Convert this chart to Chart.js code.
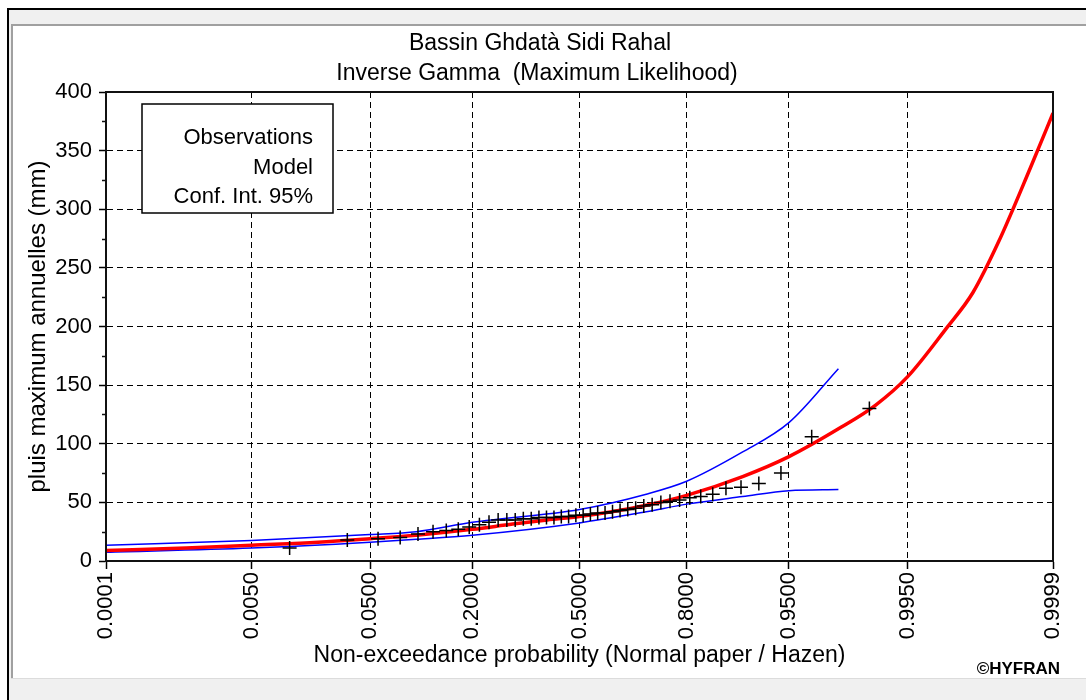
<!DOCTYPE html>
<html>
<head>
<meta charset="utf-8">
<script src="https://cdn.jsdelivr.net/npm/chart.js@4.4.1/dist/chart.umd.min.js"></script>
<style>
  html, body { margin: 0; padding: 0; background: #fff; }
  #wrap { width: 1086px; height: 700px; }
</style>
</head>
<body>
<div id="wrap"><canvas id="chart"></canvas></div>
<script>
// ================= DATA =================
const titleLines = ["Bassin Ghdatà Sidi Rahal", "Inverse Gamma  (Maximum Likelihood)"];
const legendLines = ["Observations", "Model", "Conf. Int. 95%"];
const xTitle = "Non-exceedance probability (Normal paper / Hazen)";
const yTitle = "pluis maximum annuelles (mm)";

const xTickProbs = [0.0001, 0.005, 0.05, 0.2, 0.5, 0.8, 0.95, 0.995, 0.9999];
const xTickLabels = ["0.0001", "0.0050", "0.0500", "0.2000", "0.5000", "0.8000", "0.9500", "0.9950", "0.9999"];

// observations (Hazen plotting positions)
const obsProb = [0.0114, 0.0341, 0.0568, 0.0795, 0.1023, 0.1250, 0.1477, 0.1705, 0.1932, 0.2159,
  0.2386, 0.2614, 0.2841, 0.3068, 0.3295, 0.3523, 0.3750, 0.3977, 0.4205, 0.4432,
  0.4659, 0.4886, 0.5114, 0.5341, 0.5568, 0.5795, 0.6023, 0.6250, 0.6477, 0.6705,
  0.6932, 0.7159, 0.7386, 0.7614, 0.7841, 0.8068, 0.8295, 0.8523, 0.8750, 0.8977,
  0.9205, 0.9432, 0.9659, 0.9886];
const obsValue = [11, 18, 19, 20, 23, 25, 26, 27, 29, 31,
  33, 35, 35, 35, 36, 36, 37, 37, 37, 38,
  38, 39, 39, 40, 41, 41, 42, 43, 44, 45,
  47, 48, 50, 51, 52, 54, 55, 57, 62, 63,
  66, 75, 106, 130];

// fitted model
const modelProb = [0.0001, 0.001, 0.005, 0.02, 0.05, 0.1, 0.2, 0.3, 0.4, 0.5, 0.6, 0.7,
  0.8, 0.9, 0.95, 0.98, 0.99, 0.995, 0.998, 0.999, 0.9995, 0.9998, 0.9999];
const modelValue = [9, 11, 13.5, 16, 19, 22, 27, 31.5, 35, 38, 42, 47.5,
  56, 72, 89, 114, 133, 157, 198, 229, 272, 335, 382];

// confidence interval 95%
const ciProb = [0.0001, 0.005, 0.05, 0.1, 0.2, 0.5, 0.7, 0.8, 0.9, 0.95, 0.979];
const ciUpper = [13.5, 17.5, 22.5, 25, 33, 44, 57, 68, 93, 118, 164];
const ciLower = [7.5, 11, 16, 18.5, 22, 32.5, 42, 48.5, 55, 60, 61];

const FONT = "'Liberation Sans', Arial, sans-serif";

// ================= NORMAL PAPER =================
// inverse standard normal (Acklam)
function probit(p) {
  const a = [-3.969683028665376e+01, 2.209460984245205e+02, -2.759285104469687e+02, 1.383577518672690e+02, -3.066479806614716e+01, 2.506628277459239e+00];
  const b = [-5.447609879822406e+01, 1.615858368580409e+02, -1.556989798598866e+02, 6.680131188771972e+01, -1.328068155288572e+01];
  const c = [-7.784894002430293e-03, -3.223964580411365e-01, -2.400758277161838e+00, -2.549732539343734e+00, 4.374664141464968e+00, 2.938163982698783e+00];
  const d = [7.784695709041462e-03, 3.224671290700398e-01, 2.445134137142996e+00, 3.754408661907416e+00];
  const pl = 0.02425;
  let q, r;
  if (p < pl) {
    q = Math.sqrt(-2 * Math.log(p));
    return (((((c[0]*q+c[1])*q+c[2])*q+c[3])*q+c[4])*q+c[5]) / ((((d[0]*q+d[1])*q+d[2])*q+d[3])*q+1);
  }
  if (p > 1 - pl) {
    q = Math.sqrt(-2 * Math.log(1 - p));
    return -(((((c[0]*q+c[1])*q+c[2])*q+c[3])*q+c[4])*q+c[5]) / ((((d[0]*q+d[1])*q+d[2])*q+d[3])*q+1);
  }
  q = p - 0.5; r = q * q;
  return (((((a[0]*r+a[1])*r+a[2])*r+a[3])*r+a[4])*r+a[5])*q / (((((b[0]*r+b[1])*r+b[2])*r+b[3])*r+b[4])*r+1);
}

const toPoints = (probs, vals) => probs.map((p, i) => ({ x: probit(p), y: vals[i] }));

// ================= DECORATION =================
const decor = {
  id: "decor",
  beforeDraw(chart) {
    const ctx = chart.ctx;
    ctx.save();
    ctx.fillStyle = "#fff";
    ctx.fillRect(0, 0, 1086, 700);
    // window frame
    ctx.fillStyle = "#f0f0f0";
    ctx.fillRect(9, 10, 1077, 14);
    ctx.fillRect(9, 10, 2, 690);
    ctx.fillRect(9, 679, 1077, 21);
    ctx.fillStyle = "#dcdcdc";
    ctx.fillRect(11, 678, 1075, 1);
    ctx.fillStyle = "#a0a0a0";
    ctx.fillRect(11, 24, 1075, 2);
    ctx.fillRect(11, 24, 2, 654);
    ctx.fillStyle = "#000";
    ctx.fillRect(7, 8, 1079, 2);
    ctx.fillRect(7, 8, 2, 692);
    ctx.restore();
  },
  afterDraw(chart) {
    const ctx = chart.ctx;
    const a = chart.chartArea;
    const ys = chart.scales.y;
    ctx.save();
    // plot frame
    ctx.strokeStyle = "#111";
    ctx.lineWidth = 2;
    ctx.strokeRect(a.left, a.top, a.right - a.left, a.bottom - a.top);
    // minor ticks
    ctx.lineWidth = 1.5;
    ctx.beginPath();
    for (let v = 25; v < 400; v += 50) {
      const y = Math.round(ys.getPixelForValue(v)) + 0.5;
      ctx.moveTo(a.left - 4, y);
      ctx.lineTo(a.left, y);
    }
    ctx.stroke();
    // titles
    ctx.fillStyle = "#000";
    ctx.font = "23px " + FONT;
    ctx.textAlign = "center";
    ctx.textBaseline = "alphabetic";
    ctx.fillText(titleLines[0], 540, 50);
    ctx.fillText(titleLines[1], 537, 80);
    // legend box
    ctx.fillStyle = "#fff";
    ctx.fillRect(142, 104, 191, 109);
    ctx.strokeStyle = "#000";
    ctx.lineWidth = 1.5;
    ctx.strokeRect(142, 104, 191, 109);
    ctx.fillStyle = "#000";
    ctx.font = "22px " + FONT;
    ctx.textAlign = "right";
    legendLines.forEach((t, i) => ctx.fillText(t, 313, 144 + i * 29.5));
    // copyright
    ctx.font = "bold 17px " + FONT;
    ctx.fillText("\u00A9HYFRAN", 1060, 674);
    ctx.restore();
  }
};

// ================= CHART =================
new Chart(document.getElementById("chart"), {
  data: {
    datasets: [
      {
        type: "scatter",
        label: legendLines[0],
        data: toPoints(obsProb, obsValue),
        pointStyle: "cross",
        pointRadius: 7,
        pointBorderWidth: 1.5,
        borderColor: "#000",
        backgroundColor: "#000",
        order: 0
      },
      {
        type: "line",
        label: legendLines[1],
        data: toPoints(modelProb, modelValue),
        borderColor: "#ff0000",
        borderWidth: 3.5,
        pointRadius: 0,
        cubicInterpolationMode: "monotone",
        order: 1
      },
      {
        type: "line",
        label: legendLines[2],
        data: toPoints(ciProb, ciUpper),
        borderColor: "#0000ff",
        borderWidth: 1.5,
        pointRadius: 0,
        cubicInterpolationMode: "monotone",
        order: 2
      },
      {
        type: "line",
        label: legendLines[2],
        data: toPoints(ciProb, ciLower),
        borderColor: "#0000ff",
        borderWidth: 1.5,
        pointRadius: 0,
        cubicInterpolationMode: "monotone",
        order: 2
      }
    ]
  },
  options: {
    responsive: true,
    maintainAspectRatio: false,
    animation: false,
    layout: { padding: { left: 13, top: 92, right: 33, bottom: 21 } },
    plugins: { legend: { display: false }, title: { display: false }, tooltip: { enabled: false } },
    scales: {
      x: {
        type: "linear",
        min: probit(xTickProbs[0]),
        max: probit(xTickProbs[xTickProbs.length - 1]),
        afterBuildTicks: s => { s.ticks = xTickProbs.map(p => ({ value: probit(p) })); },
        afterFit: s => { s.height = 118; s.paddingLeft = 0; s.paddingRight = 0; },
        ticks: {
          autoSkip: false, minRotation: 90, maxRotation: 90, padding: 3, color: "#000",
          font: { family: FONT, size: 22 },
          callback: (v, i) => xTickLabels[i]
        },
        grid: { color: "#000", lineWidth: 1, tickLength: 8, tickColor: "#000", tickWidth: 1.5, tickBorderDash: [] },
        border: { display: true, color: "#111", width: 2, dash: [6, 4] },
        title: { display: true, text: xTitle, color: "#000", font: { family: FONT, size: 23 }, padding: { top: 0, bottom: 10 } }
      },
      y: {
        min: 0, max: 400,
        afterFit: s => { s.width = 93; s.paddingTop = 0; s.paddingBottom = 0; },
        ticks: { stepSize: 50, padding: 7, color: "#000", font: { family: FONT, size: 22 } },
        grid: { color: "#000", lineWidth: 1, tickLength: 7, tickColor: "#000", tickWidth: 1.5, tickBorderDash: [] },
        border: { display: true, color: "#111", width: 2, dash: [6, 4] },
        title: { display: true, text: yTitle, color: "#000", font: { family: FONT, size: 24 }, padding: { top: 11, bottom: 0 } }
      }
    }
  },
  plugins: [decor]
});
</script>
</body>
</html>
